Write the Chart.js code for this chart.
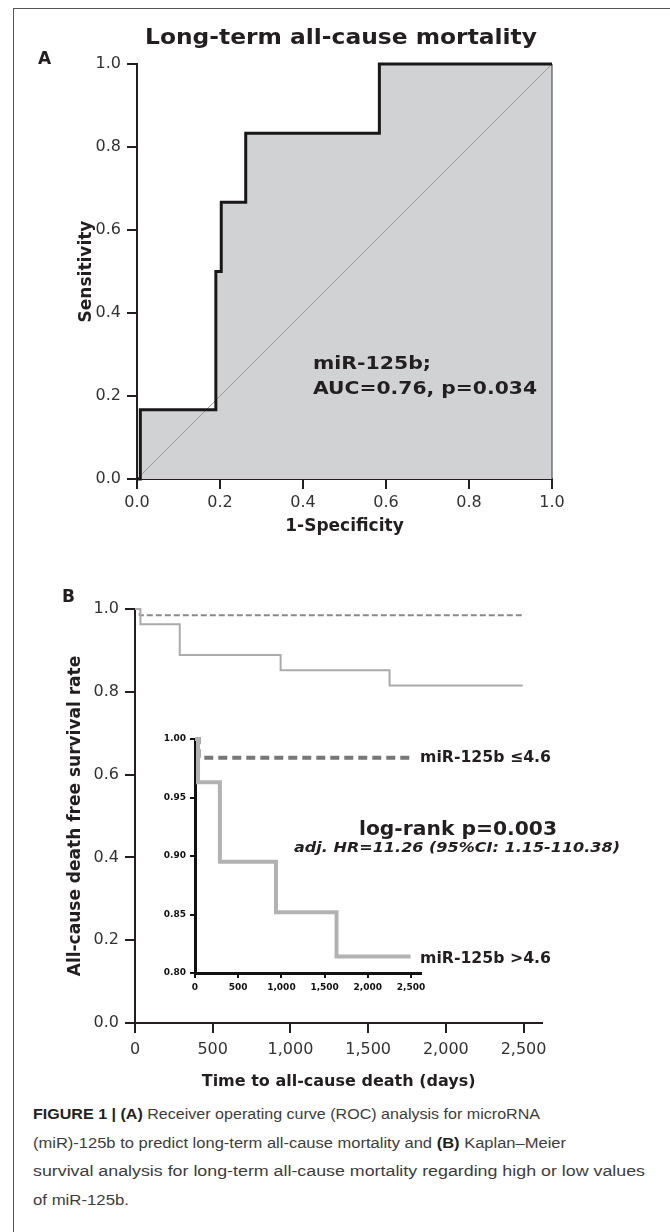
<!DOCTYPE html>
<html><head><meta charset="utf-8">
<script src="https://cdn.jsdelivr.net/npm/chart.js@4"></script>
<style>
html,body{margin:0;padding:0;background:#fff;}
body{width:670px;height:1232px;position:relative;overflow:hidden;}
#frame{position:absolute;left:13px;top:8px;width:700px;height:1300px;border-left:1.5px solid #555;border-top:1.5px solid #555;}
canvas{position:absolute;}
#cA{left:0;top:0;}
#cB{left:0;top:560px;}
#cI{left:130px;top:700px;}
#cap{position:absolute;left:33px;top:1100px;font-family:"Liberation Sans",Arial,sans-serif;font-size:15.5px;line-height:28.7px;color:#3d3d3d;white-space:nowrap;}
#cap .ln{transform-origin:0 0;}
#cap b{color:#231f20;}
</style></head><body>
<div id="frame"></div>
<canvas id="cA" width="670" height="560"></canvas>
<canvas id="cB" width="670" height="540"></canvas>
<canvas id="cI" width="520" height="310"></canvas>
<div id="cap">
<div class="ln"><span><b>FIGURE 1 | (A)</b> Receiver operating curve (ROC) analysis for microRNA</span></div>
<div class="ln"><span>(miR)-125b to predict long-term all-cause mortality and <b>(B)</b> Kaplan–Meier</span></div>
<div class="ln"><span>survival analysis for long-term all-cause mortality regarding high or low values</span></div>
<div class="ln"><span>of miR-125b.</span></div>
</div>
<script>
// ---------- data ----------
const rocFPR = [0, 0.008, 0.19, 0.203, 0.262, 0.584, 1.0];
const rocTPR = [0, 0.167, 0.5, 0.667, 0.833, 1.0, 1.0];
const refX = [0, 1];
const refY = [0, 1];
const edgeX = [1, 1];
const edgeY = [0, 1];
const rocTicks = [0, 0.2, 0.4, 0.6, 0.8, 1.0];

const kmDays = [0, 35, 288, 937, 1638, 2495];
const kmHigh = [1.0, 0.963, 0.889, 0.852, 0.815, 0.815];
const kmLowDays = [0, 30, 2495];
const kmLow = [1.0, 0.985, 0.985];
const kmHighInset = [1.0, 0.963, 0.895, 0.852, 0.814, 0.814];
const kmLowInsetDays = [0, 42, 2495];
const kmLowInset = [1.0, 0.984, 0.984];
const dayTicks = [0, 500, 1000, 1500, 2000, 2500];
const survTicks = [0, 0.2, 0.4, 0.6, 0.8, 1.0];
const insetTicks = [0.80, 0.85, 0.90, 0.95, 1.00];

// ---------- helpers ----------
const INK = '#231f20';
const pts = (xs, ys) => xs.map((x, i) => ({x, y: ys[i]}));
const setTicks = arr => s => { s.ticks = arr.map(v => ({value: v})); };

const textPlugin = {
  id: 'texts',
  afterDraw(chart, args, opts) {
    const ctx = chart.ctx;
    for (const t of (opts.items || [])) {
      ctx.save();
      ctx.font = t.font;
      ctx.fillStyle = t.color || INK;
      ctx.textBaseline = 'alphabetic';
      ctx.textAlign = 'left';
      const w = ctx.measureText(t.text).width;
      const tw = t.w || w;
      const sx = tw / w;
      let x = t.x;
      if (t.align === 'center') x = t.x - tw / 2;
      ctx.translate(x, t.y);
      ctx.scale(sx, 1);
      ctx.fillText(t.text, 0, 0);
      ctx.restore();
    }
  }
};

function axisCfg(o) {
  return {
    type: 'linear', min: o.min, max: o.max,
    afterBuildTicks: setTicks(o.ticks),
    afterFit: s => {
      if (o.h !== undefined) s.height = o.h;
      if (o.wd !== undefined) s.width = o.wd;
      s.paddingTop = 0; s.paddingBottom = 0; s.paddingLeft = 0; s.paddingRight = 0;
    },
    grid: {drawOnChartArea: false, drawTicks: true, tickLength: o.tl, color: o.color || INK, lineWidth: o.tw || 2},
    border: {display: true, color: o.color || INK, width: o.bw || 2},
    ticks: {color: o.tcolor || '#333', font: o.font, padding: o.pad, callback: o.fmt, maxRotation: 0, autoSkip: false},
    title: o.title ? {display: true, text: o.title, color: INK, font: o.tfont, padding: {top: 0, bottom: 0}} : {display: false}
  };
}

const baseOpts = {
  responsive: false, animation: false, devicePixelRatio: 1,
  plugins: {legend: {display: false}, tooltip: {enabled: false}, title: {display: false}}
};

// ---------- Chart A: ROC ----------
new Chart(document.getElementById('cA'), {
  type: 'line',
  data: {
    datasets: [
      {data: pts(rocFPR, rocTPR), stepped: true, borderWidth: 0, borderColor: 'rgba(0,0,0,0)', backgroundColor: '#d1d2d4', fill: 'origin', pointRadius: 0, order: 3},
      {data: pts(refX, refY), borderWidth: 1, borderColor: '#9b9b9b', pointRadius: 0, fill: false, order: 2},
      {data: pts(edgeX, edgeY), borderWidth: 1.2, borderColor: '#555', pointRadius: 0, fill: false, order: 1, clip: false},
      {data: pts(rocFPR, rocTPR), stepped: true, borderWidth: 3, borderColor: '#1a1718', pointRadius: 0, fill: false, order: 0, clip: false}
    ]
  },
  options: Object.assign({}, baseOpts, {
    layout: {padding: {left: 76.3, top: 64, right: 118, bottom: 22.8}},
    scales: {
      x: axisCfg({min: 0, max: 1, ticks: rocTicks, h: 58.2, tl: 10, pad: 4,
        font: {family: 'DejaVu Sans', size: 16}, fmt: v => v.toFixed(1),
        title: '1-Specificity', tfont: {family: 'DejaVu Sans', size: 17, weight: 'bold'}}),
      y: axisCfg({min: 0, max: 1, ticks: rocTicks, wd: 60.7, tl: 10, pad: 6,
        font: {family: 'DejaVu Sans', size: 16}, fmt: v => v.toFixed(1),
        title: 'Sensitivity', tfont: {family: 'DejaVu Sans', size: 17, weight: 'bold'}})
    },
    plugins: Object.assign({}, baseOpts.plugins, {
      texts: {items: [
        {text: 'Long-term all-cause mortality', x: 145, y: 44, w: 392, font: 'bold 21px "DejaVu Sans"'},
        {text: 'A', x: 38, y: 64, font: 'bold 17px "DejaVu Sans"'},
        {text: 'miR-125b;', x: 313, y: 369, w: 118, font: 'bold 18px "DejaVu Sans"'},
        {text: 'AUC=0.76, p=0.034', x: 313, y: 394, w: 224, font: 'bold 18px "DejaVu Sans"'}
      ]}
    })
  }),
  plugins: [textPlugin]
});

// ---------- Chart B: Kaplan-Meier ----------
new Chart(document.getElementById('cB'), {
  type: 'line',
  data: {
    datasets: [
      {data: pts(kmDays, kmHigh), stepped: true, borderWidth: 2, borderColor: '#ababab', pointRadius: 0, fill: false, clip: false},
      {data: pts(kmLowDays, kmLow), stepped: true, borderWidth: 2, borderColor: '#8a8a8a', borderDash: [6, 3], pointRadius: 0, fill: false, clip: false}
    ]
  },
  options: Object.assign({}, baseOpts, {
    layout: {padding: {left: 65.3, top: 49, right: 127.8, bottom: 8.4}},
    scales: {
      x: axisCfg({min: 0, max: 2620, ticks: dayTicks, h: 68.6, tl: 10, pad: 7,
        font: {family: 'DejaVu Sans', size: 16}, fmt: v => v.toLocaleString('en-US'),
        title: 'Time to all-cause death (days)', tfont: {family: 'DejaVu Sans', size: 16, weight: 'bold'}}),
      y: axisCfg({min: 0, max: 1, ticks: survTicks, wd: 69.7, tl: 10, pad: 6,
        font: {family: 'DejaVu Sans', size: 16}, fmt: v => v.toFixed(1),
        title: 'All-cause death free survival rate', tfont: {family: 'DejaVu Sans', size: 17, weight: 'bold'}})
    },
    plugins: Object.assign({}, baseOpts.plugins, {
      texts: {items: [
        {text: 'B', x: 62, y: 42, font: 'bold 17px "DejaVu Sans"'}
      ]}
    })
  }),
  plugins: [textPlugin]
});

// ---------- Inset ----------
new Chart(document.getElementById('cI'), {
  type: 'line',
  data: {
    datasets: [
      {data: pts(kmDays, kmHighInset), stepped: true, borderWidth: 4, borderColor: '#b2b2b2', pointRadius: 0, fill: false, clip: false},
      {data: pts(kmLowInsetDays, kmLowInset), stepped: true, borderWidth: 4, borderColor: '#777777', borderDash: [9, 5], pointRadius: 0, fill: false, clip: false}
    ]
  },
  options: Object.assign({}, baseOpts, {
    layout: {padding: {left: 25, top: 39, right: 228.6, bottom: 7}},
    scales: {
      x: axisCfg({min: 0, max: 2620, ticks: dayTicks, h: 30, tl: 5, pad: 4, color: '#111', bw: 3, tw: 2, tcolor: '#111',
        font: {family: 'DejaVu Sans', size: 9, weight: 'bold'}, fmt: v => v.toLocaleString('en-US')}),
      y: axisCfg({min: 0.8, max: 1.0, ticks: insetTicks, wd: 40, tl: 5, pad: 4, color: '#111', bw: 3, tw: 2, tcolor: '#111',
        font: {family: 'DejaVu Sans', size: 9, weight: 'bold'}, fmt: v => v.toFixed(2)})
    },
    plugins: Object.assign({}, baseOpts.plugins, {
      texts: {items: [
        {text: 'miR-125b \u22644.6', x: 290, y: 62, w: 131, font: 'bold 16px "DejaVu Sans"'},
        {text: 'miR-125b >4.6', x: 290, y: 263, w: 131, font: 'bold 16px "DejaVu Sans"'},
        {text: 'log-rank p=0.003', x: 229, y: 135, w: 198, font: 'bold 20px "DejaVu Sans"'},
        {text: 'adj. HR=11.26 (95%CI: 1.15-110.38)', x: 164, y: 152, w: 326, font: 'italic bold 14px "DejaVu Sans"'}
      ]}
    })
  }),
  plugins: [textPlugin]
});

// fit each caption line to its width in the reference
(function(){
  const targets = [507, 533, 612, 96];
  document.querySelectorAll('#cap .ln').forEach((ln, i) => {
    const w = ln.querySelector('span').getBoundingClientRect().width;
    ln.style.transform = 'scaleX(' + (targets[i] / w).toFixed(4) + ')';
  });
})();
</script>
</body></html>
